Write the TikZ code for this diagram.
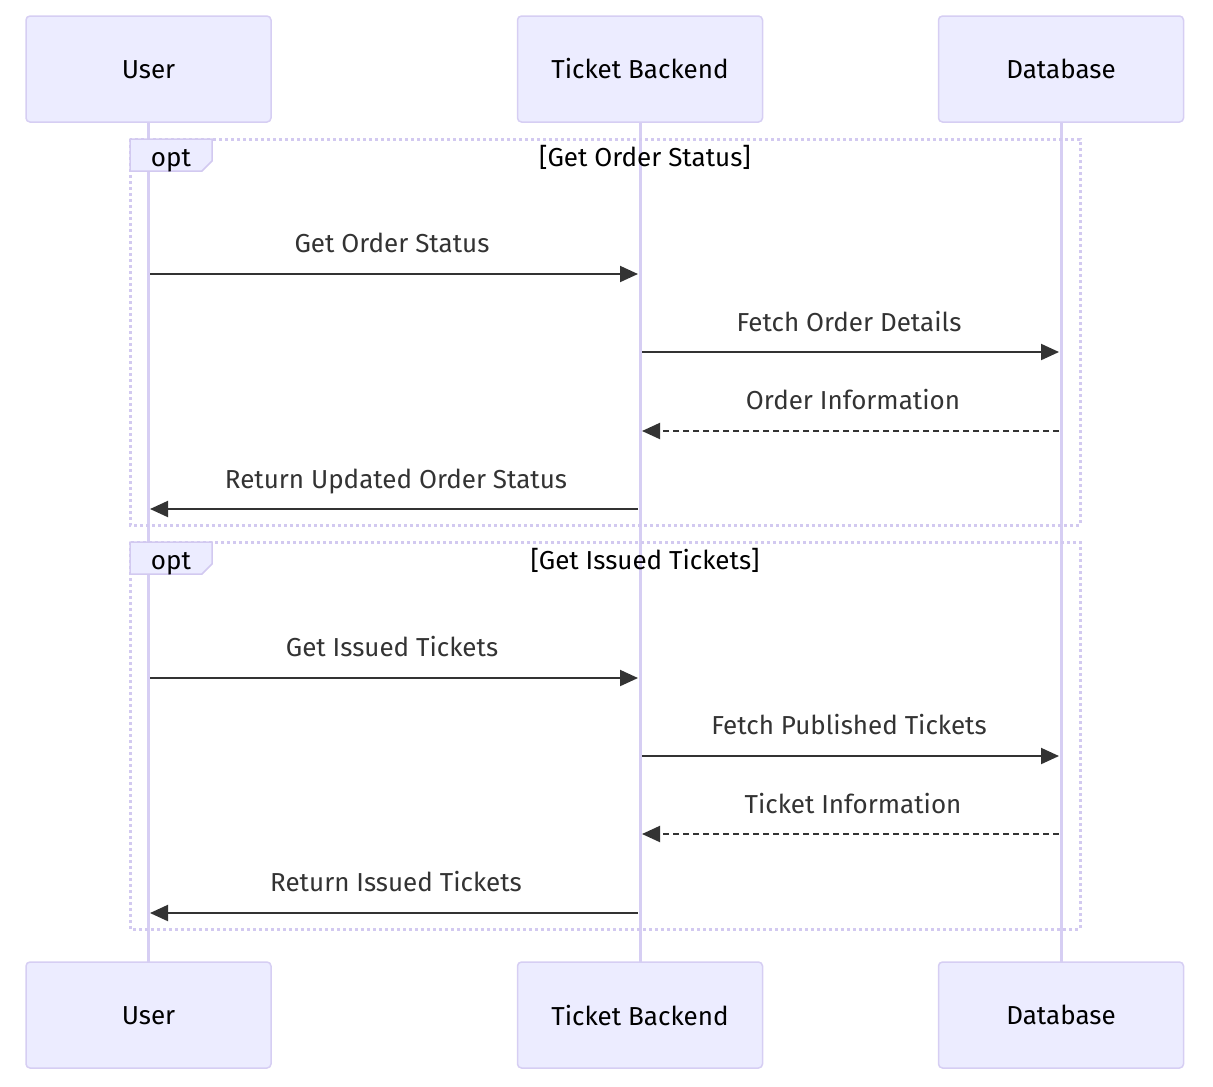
\documentclass[tikz,border=0pt]{standalone}
\usepackage{fontspec}
\setmainfont{Fira Sans}
\usetikzlibrary{arrows.meta}
\definecolor{actfill}{HTML}{ECECFF}
\definecolor{actdraw}{HTML}{D6CEF3}
\definecolor{lifeln}{HTML}{D6CEF3}
\definecolor{msg}{HTML}{333333}
\definecolor{loopln}{HTML}{D2C9F0}
\newcommand{\acttxt}[1]{\raisebox{-2pt}{\vphantom{Tkd}#1}}
\begin{document}
\begin{tikzpicture}[x=0.75pt,y=-0.75pt,
  actor/.style={draw=actdraw,fill=actfill,line width=1.5pt*0.75,rounded corners=3pt,minimum width=245*0.75pt,minimum height=106*0.75pt,font=\fontsize{19.5}{22}\selectfont,text=black,inner sep=0},
  life/.style={draw=lifeln,line width=3*0.75pt},
  msgline/.style={draw=msg,line width=2*0.75pt,-{Triangle[length=13.5pt,width=12pt]}},
  msgdash/.style={msgline,dash pattern=on 4.5pt off 3pt},
  msgtxt/.style={font=\fontsize{19.5}{22}\selectfont,text=msg,inner sep=0,anchor=base},
  loopbox/.style={draw=loopln,line width=3*0.75pt,dash pattern=on 2.25pt off 2.25pt},
  looplabel/.style={draw=loopln,fill=actfill,line width=1.5*0.75pt},
  looptxt/.style={font=\fontsize{19.5}{22}\selectfont,text=black,inner sep=0,anchor=base}]
\useasboundingbox (0,0) rectangle (1213,1086);
% lifelines
\coordinate (u1) at (148,122); \coordinate (u2) at (148,962);
\coordinate (b1) at (640,122); \coordinate (b2) at (640,962);
\coordinate (d1) at (1061,122); \coordinate (d2) at (1061,962);
\draw[life] (u1) -- (u2);
\draw[life] (b1) -- (b2);
\draw[life] (d1) -- (d2);
% actors
\node[actor] (ut) at (148.5,69) {\acttxt{User}};
\node[actor] (bt) at (640,69) {\acttxt{Ticket Backend}};
\node[actor] (dt) at (1061,69) {\acttxt{Database}};
\node[actor] (ub) at (148.5,1015) {\acttxt{User}};
\node[actor] (bb) at (640,1015) {\acttxt{Ticket Backend}};
\node[actor] (db) at (1061,1015) {\acttxt{Database}};
% opt boxes
\draw[loopbox] (130,139) rectangle (1080,525);
\draw[looplabel] (130,139) -- (212,139) -- (212,161) -- (202,171) -- (130,171) -- cycle;
\node[looptxt] (o1) at (171,166) {opt};
\node[looptxt] (t1) at (645,166) {[Get Order Status]};
\draw[loopbox] (130,542) rectangle (1080,929);
\draw[looplabel] (130,542) -- (212,542) -- (212,564) -- (202,574) -- (130,574) -- cycle;
\node[looptxt] (o2) at (171,569) {opt};
\node[looptxt] (t2) at (645,569) {[Get Issued Tickets]};
% messages
\coordinate (m1a) at (150,274); \coordinate (m1b) at (638,274);
\coordinate (m2a) at (642,352); \coordinate (m2b) at (1059,352);
\coordinate (m3a) at (1059,431); \coordinate (m3b) at (642,431);
\coordinate (m4a) at (638,509); \coordinate (m4b) at (150,509);
\coordinate (m5a) at (150,678); \coordinate (m5b) at (638,678);
\coordinate (m6a) at (642,756); \coordinate (m6b) at (1059,756);
\coordinate (m7a) at (1059,834); \coordinate (m7b) at (642,834);
\coordinate (m8a) at (638,913); \coordinate (m8b) at (150,913);
\draw[msgline] (m1a) -- (m1b);
\draw[msgline] (m2a) -- (m2b);
\draw[msgdash] (m3a) -- (m3b);
\draw[msgline] (m4a) -- (m4b);
\draw[msgline] (m5a) -- (m5b);
\draw[msgline] (m6a) -- (m6b);
\draw[msgdash] (m7a) -- (m7b);
\draw[msgline] (m8a) -- (m8b);
\node[msgtxt] (l1) at (392,252) {Get Order Status};
\node[msgtxt] (l2) at (849,331) {Fetch Order Details};
\node[msgtxt] (l3) at (853,409) {Order Information};
\node[msgtxt] (l4) at (396,488) {Return Updated Order Status};
\node[msgtxt] (l5) at (392,656) {Get Issued Tickets};
\node[msgtxt] (l6) at (849,734) {Fetch Published Tickets};
\node[msgtxt] (l7) at (853,813) {Ticket Information};
\node[msgtxt] (l8) at (396,891) {Return Issued Tickets};
\end{tikzpicture}
\end{document}
